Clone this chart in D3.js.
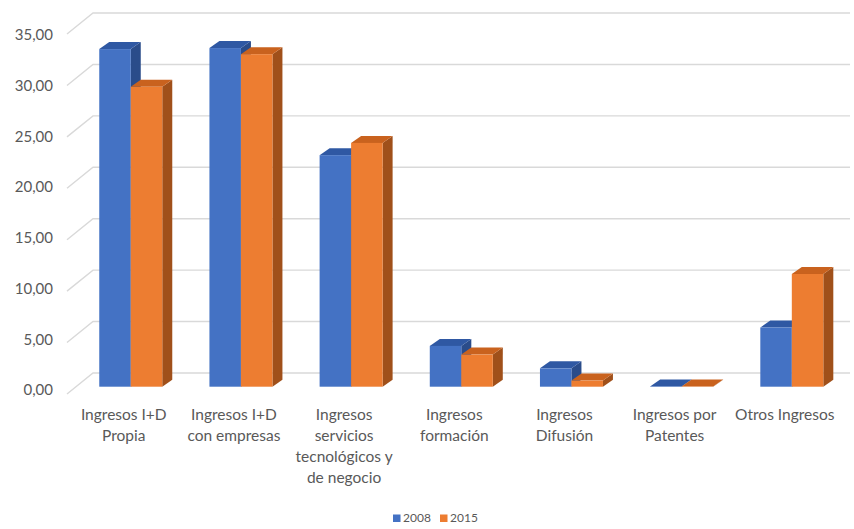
<!DOCTYPE html>
<html>
<head>
<meta charset="utf-8">
<script src="https://cdn.jsdelivr.net/npm/d3@7"></script>
<style>
  html, body { margin: 0; padding: 0; background: #ffffff; }
  svg { display: block; font-family: Lato, "Open Sans", sans-serif; }
</style>
</head>
<body>
<svg id="chart" width="854" height="529"></svg>
<script>
// Income sources (percentage share), 2008 vs 2015
const categories = [
  "Ingresos I+D Propia",
  "Ingresos I+D con empresas",
  "Ingresos servicios tecnológicos y de negocio",
  "Ingresos formación",
  "Ingresos Difusión",
  "Ingresos por Patentes",
  "Otros Ingresos"
];
const categoryLines = [
  ["Ingresos I+D", "Propia"],
  ["Ingresos I+D", "con empresas"],
  ["Ingresos", "servicios", "tecnológicos y", "de negocio"],
  ["Ingresos", "formación"],
  ["Ingresos", "Difusión"],
  ["Ingresos por", "Patentes"],
  ["Otros Ingresos"]
];
const seriesNames = ["2008", "2015"];
const values2008 = [33.1, 33.2, 22.7, 4.0, 1.8, 0.03, 5.8];
const values2015 = [29.4, 32.6, 23.9, 3.15, 0.6, 0.02, 11.05];
const yTicks = [0, 5, 10, 15, 20, 25, 30, 35];

const colors = {
  "2008": { front: "#4472C4", top: "#2F58A3", side: "#2A4C8A" },
  "2015": { front: "#ED7D31", top: "#C9621E", side: "#A0501A" }
};

const svg = d3.select("#chart");
const depthX = 10, depthY = 7;          // oblique extrusion of the columns
const barBase = 386.7;

// Scales
const x = d3.scaleBand().domain(categories).range([75.67, 846.9]).padding(0);
const xs = d3.scaleBand().domain(seriesNames).range([-31.5, 31.5]).padding(0);
const yBar = d3.scaleLinear().domain([0, 35]).range([barBase, barBase - 357]);
const yBack = d3.scaleLinear().domain([0, 35]).range([373, 13]);
const yFront = d3.scaleLinear().domain([0, 35]).range([394, 34]);
const yLabel = d3.scaleLinear().domain([0, 35]).range([390, 35]);

// Back wall gridlines with their floor-to-wall diagonal
const grid = svg.append("g").attr("class", "grid");
grid.selectAll("path").data(yTicks).join("path")
  .attr("d", d => `M67,${yFront(d)} L93,${yBack(d)} L850,${yBack(d)}`)
  .attr("fill", "none")
  .attr("stroke", "#d9d9d9")
  .attr("stroke-width", 1.4);

// Value axis labels
svg.append("g").selectAll("text").data(yTicks).join("text")
  .attr("x", 53)
  .attr("y", d => yLabel(d))
  .attr("dy", "0.35em")
  .attr("text-anchor", "end")
  .attr("font-size", 15)
  .attr("fill", "#595959")
  .text(d => d3.format(".2f")(d).replace(".", ","));

// Columns
const rows = [];
categories.forEach((c, i) => {
  rows.push({ cat: c, series: "2008", value: values2008[i] });
  rows.push({ cat: c, series: "2015", value: values2015[i] });
});

const bars = svg.append("g").selectAll("g").data(rows).join("g");
bars.each(function(d) {
  const g = d3.select(this);
  const cx = x(d.cat) + x.bandwidth() / 2;
  const x0 = cx + xs(d.series);
  const w = xs.bandwidth();
  const yt = yBar(d.value);
  const col = colors[d.series];
  // right side face
  g.append("path")
    .attr("d", `M${x0 + w},${yt} L${x0 + w + depthX},${yt - depthY} L${x0 + w + depthX},${barBase - depthY} L${x0 + w},${barBase} Z`)
    .attr("fill", col.side);
  // top face
  g.append("path")
    .attr("d", `M${x0},${yt} L${x0 + depthX},${yt - depthY} L${x0 + w + depthX},${yt - depthY} L${x0 + w},${yt} Z`)
    .attr("fill", col.top);
  // front face
  g.append("rect")
    .attr("x", x0).attr("y", yt)
    .attr("width", w).attr("height", Math.max(0, barBase - yt))
    .attr("fill", col.front);
});

// Category labels
const catLabels = svg.append("g").selectAll("text").data(categories).join("text")
  .attr("x", d => x(d) + x.bandwidth() / 2 - 7)
  .attr("y", 420)
  .attr("text-anchor", "middle")
  .attr("font-size", 15.5)
  .attr("fill", "#595959");
catLabels.each(function(d, i) {
  const t = d3.select(this);
  categoryLines[i].forEach((line, k) => {
    t.append("tspan")
      .attr("x", x(d) + x.bandwidth() / 2 - 7)
      .attr("dy", k === 0 ? 0 : 21)
      .text(line);
  });
});

// Legend
const legend = svg.append("g").attr("transform", "translate(393,522)");
const legendX = d3.scalePoint().domain(seriesNames).range([0, 47]);
const items = legend.selectAll("g").data(seriesNames).join("g")
  .attr("transform", d => `translate(${legendX(d)},0)`);
items.append("rect")
  .attr("x", 0).attr("y", -7.5)
  .attr("width", 7.5).attr("height", 7.5)
  .attr("fill", d => colors[d].front);
items.append("text")
  .attr("x", 10).attr("y", 0)
  .attr("font-size", 12)
  .attr("fill", "#595959")
  .text(d => d);
</script>
</body>
</html>
